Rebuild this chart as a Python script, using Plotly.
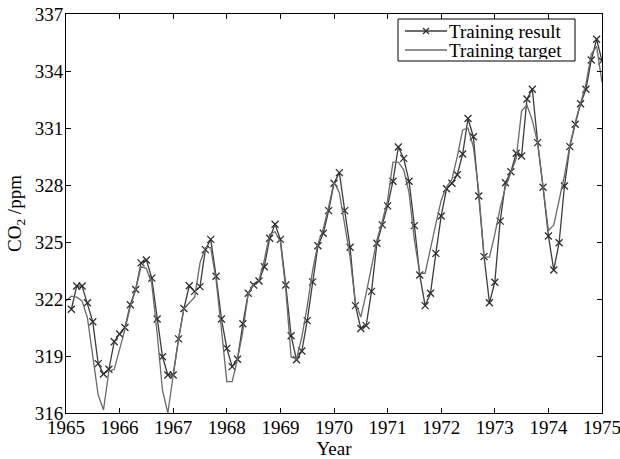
import numpy as np
import plotly.graph_objects as go

# Time axis: one sample every 0.1 year
target_years = [round(1965 + 0.1 * k, 1) for k in range(101)]
result_years = target_years[1:]

# Network output (one-step prediction)
training_result = [
    321.46, 322.68, 322.68, 321.80, 320.80, 318.60, 318.05, 318.30, 319.75, 320.16,
    320.50, 321.70, 322.50, 323.90, 324.05, 323.10, 320.95, 318.96, 318.00, 318.00,
    319.90, 321.50, 322.70, 322.40, 322.65, 324.60, 325.14, 323.20, 320.95, 319.40,
    318.44, 318.83, 320.70, 322.30, 322.74, 322.95, 323.70, 325.20, 325.93, 325.14,
    322.74, 320.07, 318.80, 319.26, 320.86, 322.90, 324.80, 325.46, 326.65, 328.09,
    328.65, 326.65, 324.72, 321.65, 320.45, 320.60, 322.40, 324.93, 325.90, 326.90,
    328.20, 330.00, 329.40, 328.20, 325.86, 323.26, 321.65, 322.30, 324.40, 326.37,
    327.80, 328.09, 328.54, 329.63, 331.50, 330.54, 327.42, 324.23, 321.80, 322.88,
    326.10, 328.12, 328.70, 329.67, 329.53, 332.53, 333.04, 330.23, 327.88, 325.32,
    323.53, 324.96, 327.95, 330.02, 331.20, 332.28, 333.04, 334.58, 335.67, 334.53,
]

# Measured CO2 concentration
training_target = [
    321.90, 322.15, 322.10, 321.90, 321.00, 319.00, 316.95, 316.16, 318.20, 318.30,
    319.30, 320.40, 321.60, 322.50, 323.70, 323.60, 322.80, 320.20, 317.20, 316.00,
    318.00, 319.90, 321.50, 321.80, 322.10, 323.90, 324.70, 324.70, 323.00, 320.40,
    317.65, 317.65, 318.85, 320.30, 322.30, 322.80, 323.00, 324.05, 325.40, 325.55,
    325.00, 322.50, 318.95, 318.85, 320.00, 321.60, 323.50, 324.90, 325.70, 326.85,
    328.15, 327.60, 326.00, 324.20, 321.80, 321.05, 322.30, 323.70, 325.10, 326.10,
    327.20, 329.20, 329.20, 328.80, 327.60, 325.10, 323.35, 323.35, 324.70, 325.95,
    327.20, 327.90, 328.30, 329.50, 330.90, 331.00, 330.00, 327.70, 324.20, 324.20,
    325.40, 326.80, 327.90, 328.70, 329.40, 331.90, 332.20, 331.40, 330.20, 327.90,
    325.60, 325.90, 327.20, 328.50, 330.10, 331.30, 332.30, 333.30, 334.90, 335.30,
    333.40,
]

x_ticks = list(range(1965, 1976))
y_ticks = list(range(316, 338, 3))
series_names = ["Training result", "Training target"]

FONT = "Liberation Serif, Times New Roman, serif"
RESULT_COLOR = "#3c3c3c"
TARGET_COLOR = "#6a6a6a"

W, H = 620, 459
M = dict(l=66, r=18, t=14, b=46)
PW, PH = W - M["l"] - M["r"], H - M["t"] - M["b"]


def px(xp):
    """Pixel column -> paper x fraction."""
    return (xp - M["l"]) / PW


def py(yp):
    """Pixel row -> paper y fraction."""
    return (H - M["b"] - yp) / PH


fig = go.Figure()
fig.add_trace(go.Scatter(
    x=result_years, y=training_result, mode="lines+markers",
    name=series_names[0],
    line=dict(color=RESULT_COLOR, width=1.3),
    marker=dict(symbol="x-thin", size=7, line=dict(color="#2e2e2e", width=1.3)),
))
fig.add_trace(go.Scatter(
    x=target_years, y=training_target, mode="lines",
    name=series_names[1],
    line=dict(color=TARGET_COLOR, width=1.3),
))

axis_common = dict(
    showline=True, linecolor="black", linewidth=1, mirror="ticks",
    ticks="inside", ticklen=5, tickwidth=1, tickcolor="black",
    showgrid=False, zeroline=False, automargin=False,
    tickfont=dict(family=FONT, size=19, color="black"),
    ticklabeloverflow="allow",
)

fig.update_xaxes(
    range=[1965, 1975], tickvals=x_ticks, ticktext=[str(v) for v in x_ticks],
    ticklabelstandoff=-3,
    title=dict(text="Year", font=dict(family=FONT, size=19, color="black"), standoff=12),
    **axis_common,
)
fig.update_yaxes(
    range=[316, 337], tickvals=y_ticks, ticktext=[str(v) for v in y_ticks],
    ticklabelstandoff=-2,
    title=dict(text="CO<sub>2</sub> /ppm", font=dict(family=FONT, size=19, color="black"), standoff=8),
    **axis_common,
)

# Legend box drawn in the upper right corner of the axes
box = dict(x0=398, x1=575, y0=19, y1=61)
rows = [31, 50]
sample = dict(x0=405, x1=447)
shapes = [dict(type="rect", xref="paper", yref="paper",
               x0=px(box["x0"]), x1=px(box["x1"]), y0=py(box["y1"]), y1=py(box["y0"]),
               fillcolor="white", line=dict(color="black", width=1), layer="above")]
annotations = []
for row, name, color in zip(rows, series_names, [RESULT_COLOR, TARGET_COLOR]):
    shapes.append(dict(type="line", xref="paper", yref="paper",
                       x0=px(sample["x0"]), x1=px(sample["x1"]), y0=py(row), y1=py(row),
                       line=dict(color=color, width=1.3), layer="above"))
    annotations.append(dict(xref="paper", yref="paper", x=px(sample["x1"] + 1), y=py(row),
                            xanchor="left", yanchor="middle", showarrow=False, text=name,
                            height=18, valign="middle", borderpad=0,
                            font=dict(family=FONT, size=19, color="black")))
# cross marker on the result sample line
mx, my, r = (sample["x0"] + sample["x1"]) / 2, rows[0], 3
for dy in (-r, r):
    shapes.append(dict(type="line", xref="paper", yref="paper",
                       x0=px(mx - r), x1=px(mx + r), y0=py(my - dy), y1=py(my + dy),
                       line=dict(color="#2e2e2e", width=1.3), layer="above"))

fig.update_layout(
    width=W, height=H,
    margin=M,
    paper_bgcolor="white", plot_bgcolor="white",
    font=dict(family=FONT, size=19, color="black"),
    showlegend=False,
    shapes=shapes,
    annotations=annotations,
)

fig.write_html("out.html")
